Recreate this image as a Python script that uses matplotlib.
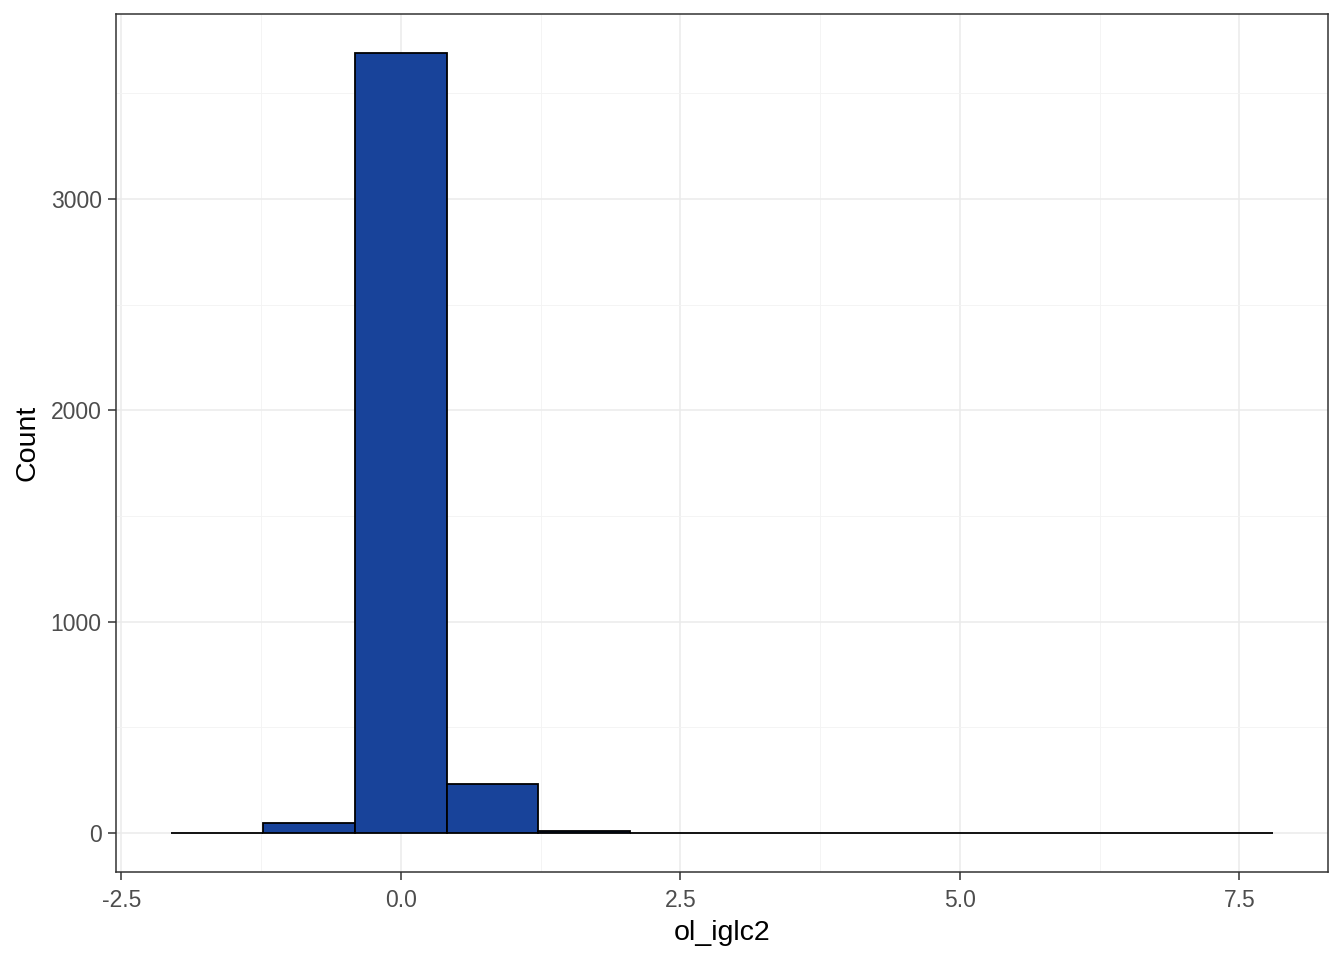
import numpy as np
import matplotlib.pyplot as plt
from matplotlib.ticker import MultipleLocator

plt.rcParams['font.family'] = ['Liberation Sans', 'DejaVu Sans']

# histogram of ol_iglc2, 12 bins
x_min = -2.054
x_max = 7.80
counts = [1, 46, 3691, 233, 7, 1, 0, 0, 0, 0, 0, 1]

edges = np.linspace(x_min, x_max, len(counts) + 1)
width = edges[1] - edges[0]

fig = plt.figure(figsize=(13.44, 9.6), dpi=100)
ax = fig.add_axes([0.0863, 0.0917, 0.9018, 0.8937])

ax.bar(edges[:-1], counts, width=width, align='edge',
       color='#18439A', edgecolor='black', linewidth=1.3, zorder=3)

rng = x_max - x_min
ax.set_xlim(x_min - 0.05 * rng, x_max + 0.05 * rng)
ax.set_ylim(-0.05 * max(counts), 1.05 * max(counts))

ax.xaxis.set_major_locator(MultipleLocator(2.5))
ax.xaxis.set_minor_locator(MultipleLocator(1.25))
ax.yaxis.set_major_locator(MultipleLocator(1000))
ax.yaxis.set_minor_locator(MultipleLocator(500))
ax.set_xticks([-2.5, 0, 2.5, 5, 7.5])
ax.set_xticklabels(['-2.5', '0.0', '2.5', '5.0', '7.5'])

ax.grid(which='major', color='#EBEBEB', linewidth=1.1, zorder=0)
ax.grid(which='minor', color='#F3F3F3', linewidth=0.6, zorder=0)
ax.set_axisbelow(True)

ax.tick_params(which='major', length=5.5, width=1.1, color='#333333',
               labelsize=16.5, labelcolor='#4D4D4D')
ax.tick_params(axis='x', pad=6.5)
ax.tick_params(axis='y', pad=4.8)
ax.tick_params(which='minor', length=0)
for s in ax.spines.values():
    s.set_color('#333333')
    s.set_linewidth(1.1)

ax.set_xlabel('ol_iglc2', fontsize=20.5, labelpad=6)
ax.set_ylabel('Count', fontsize=20.5, labelpad=7)

fig.savefig('out.png', dpi=100)
